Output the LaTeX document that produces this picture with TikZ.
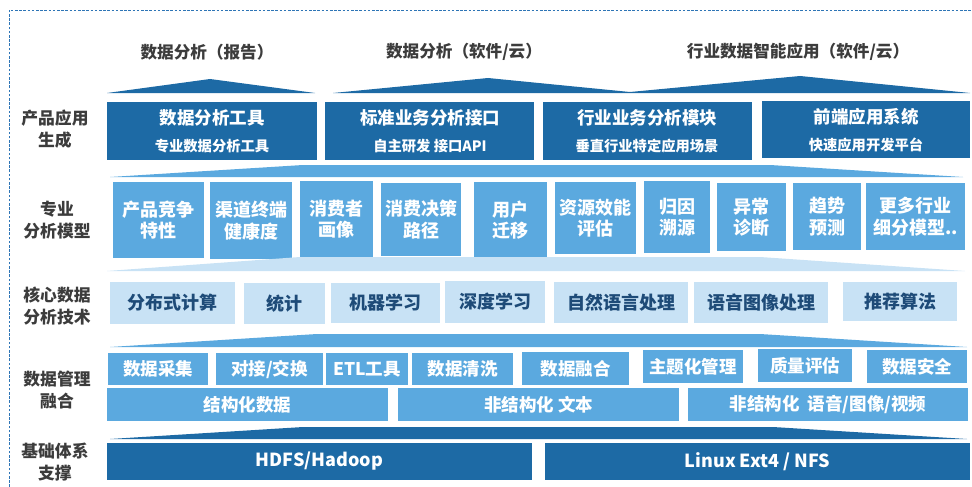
\documentclass[tikz,border=0pt]{standalone}
\usepackage{fontspec}
\setmainfont{Noto Sans CJK SC}
\definecolor{cdark}{RGB}{29,106,165}
\definecolor{cmed}{RGB}{91,169,223}
\definecolor{clight}{RGB}{200,226,245}
\definecolor{ctext}{RGB}{60,60,60}
\definecolor{cnavy}{RGB}{30,75,120}
\definecolor{cframe}{RGB}{46,117,182}
\newcommand\mybox[7]{\node[#2,minimum width={#5-#3},minimum height={#6-#4}] (#1) at ({(#3+#5)/2},{(#4+#6)/2}) {#7};}
\begin{document}
\begin{tikzpicture}[x=1pt,y=-1pt,
  base/.style={inner sep=0pt,outer sep=0pt,draw=none,align=center},
  dkbox/.style={base,fill=cdark},
  mdbox/.style={base,fill=cmed,text=white,font=\fontsize{17.5}{21}\selectfont\bfseries},
  mdtall/.style={base,fill=cmed,text=white,font=\fontsize{18}{21.5}\selectfont\bfseries},
  ltbox/.style={base,fill=clight,text=cnavy,font=\fontsize{18}{21}\selectfont\bfseries},
  dkfound/.style={base,fill=cdark,text=white,font=\fontsize{18}{21}\selectfont\bfseries},
  ttl/.style={inner sep=0pt,text=white,font=\fontsize{17.5}{21}\selectfont\bfseries},
  sub/.style={inner sep=0pt,text=white,font=\fontsize{14.3}{17}\selectfont\bfseries},
  side/.style={inner sep=0pt,align=center,text=ctext,font=\fontsize{16.8}{21.5}\selectfont\bfseries},
  head/.style={inner sep=0pt,text=ctext,font=\fontsize{16.6}{20}\selectfont\bfseries}]
\useasboundingbox (0,0) rectangle (972,487);
\draw[cframe,line width=0.9pt,dash pattern=on 2.6pt off 1.6pt] (9,487) -- (9,10) -- (972,10);

% headings
\node[head] (h1) at (207,52) {数据分析（报告）};
\node[head] (h2) at (464,52) {数据分析（软件/云）};
\node[head] (h3) at (798,52) {行业数据智能应用（软件/云）};

% top wedges
\fill[cdark] (107,93) -- (210,79) -- (315,93) -- cycle;
\fill[cdark] (333,93) -- (488,78) -- (630,92) -- (800,76) -- (970,93) -- cycle;

% side labels
\node[side] (s1) at (55,129) {产品应用\\生成};
\node[side] (s2) at (57,220) {专业\\分析模型};
\node[side] (s3) at (57,306) {核心数据\\分析技术};
\node[side] (s4) at (57,390) {数据管理\\融合};
\node[side] (s5) at (55,462) {基础体系\\支撑};

% row 1
\mybox{p1}{dkbox}{107}{102}{317}{160}{}
\mybox{p2}{dkbox}{325}{102}{534}{160}{}
\mybox{p3}{dkbox}{543}{102}{752}{160}{}
\mybox{p4}{dkbox}{762}{101}{970}{158}{}
\node[ttl] (p1a) at (212,118) {数据分析工具};
\node[sub] (p1b) at (212,146) {专业数据分析工具};
\node[ttl] (p2a) at (430,118) {标准业务分析接口};
\node[sub] (p2b) at (430,146) {自主研发 接口API};
\node[ttl] (p3a) at (647,118) {行业业务分析模块};
\node[sub] (p3b) at (647,146) {垂直行业特定应用场景};
\node[ttl] (p4a) at (866,117) {前端应用系统};
\node[sub] (p4b) at (866,145) {快速应用开发平台};

% wedge
\fill[cmed] (110,177) -- (303,165) -- (770,165) -- (963,177) -- cycle;

% row 2
\mybox{m1}{mdtall}{113}{182}{204}{258}{产品竞争\\特性}
\mybox{m2}{mdtall}{210}{182}{292}{259}{渠道终端\\健康度}
\mybox{m3}{mdtall}{300}{181}{373}{257}{消费者\\画像}
\mybox{m4}{mdtall}{381}{183}{461}{256}{消费决策\\路径}
\mybox{m5}{mdtall}{474}{182}{547}{258}{用户\\迁移}
\mybox{m6}{mdtall}{555}{182}{636}{254}{资源效能\\评估}
\mybox{m7}{mdtall}{644}{181}{710}{253}{归因\\溯源}
\mybox{m8}{mdtall}{717}{183}{786}{251}{异常\\诊断}
\mybox{m9}{mdtall}{793}{183}{861}{250}{趋势\\预测}
\mybox{m10}{mdtall}{866}{183}{965}{250}{更多行业\\细分模型..}

% wedge
\fill[clight] (107,271) -- (300,257) -- (760,257) -- (965,271) -- cycle;

% row 3
\mybox{t1}{ltbox}{110}{282}{235}{324}{分布式计算}
\mybox{t2}{ltbox}{244}{283}{325}{324}{统计}
\mybox{t3}{ltbox}{331}{283}{440}{323}{机器学习}
\mybox{t4}{ltbox}{445}{281}{545}{323}{深度学习}
\mybox{t5}{ltbox}{554}{282}{688}{323}{自然语言处理}
\mybox{t6}{ltbox}{694}{282}{828}{323}{语音图像处理}
\mybox{t7}{ltbox}{843}{282}{957}{321}{推荐算法}

% wedge
\fill[cmed] (110,347) -- (317,334) -- (760,334) -- (967,347) -- cycle;

% row 4a
\mybox{d1}{mdbox}{108}{353}{208}{385}{数据采集}
\mybox{d2}{mdbox}{216}{353}{323}{385}{对接/交换}
\mybox{d3}{mdbox}{326}{353}{408}{385}{ETL工具}
\mybox{d4}{mdbox}{412}{353}{513}{385}{数据清洗}
\mybox{d5}{mdbox}{522}{352}{629}{385}{数据融合}
\mybox{d6}{mdbox}{643}{350}{743}{383}{主题化管理}
\mybox{d7}{mdbox}{758}{349}{852}{382}{质量评估}
\mybox{d8}{mdbox}{867}{350}{967}{383}{数据安全}

% row 4b
\mybox{e1}{mdbox}{107}{388}{388}{421}{结构化数据}
\mybox{e2}{mdbox}{398}{388}{679}{421}{非结构化 文本}
\mybox{e3}{mdbox}{688}{388}{968}{421}{非结构化\ \ 语音/图像/视频}

% wedge
\fill[cdark] (110,439) -- (303,427) -- (773,427) -- (967,439) -- cycle;

% row 5
\mybox{f1}{dkfound}{107}{443}{532}{480}{HDFS/Hadoop}
\mybox{f2}{dkfound}{545}{443}{970}{480}{Linux Ext4 / NFS}
\end{tikzpicture}
\end{document}
